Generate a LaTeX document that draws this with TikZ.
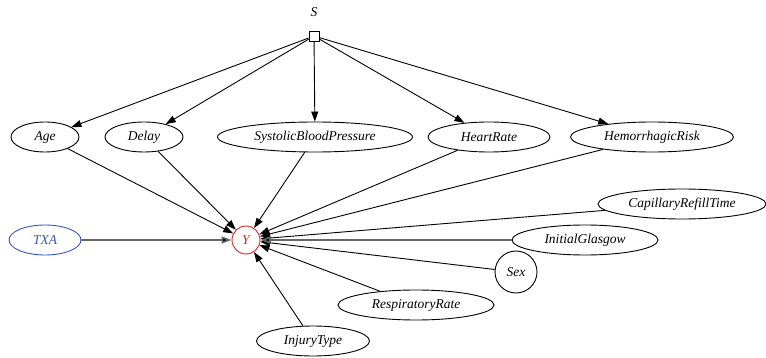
\documentclass[tikz,border=0pt]{standalone}
\usepackage{fontspec}
\setmainfont{Liberation Serif}
\usetikzlibrary{arrows.meta,shapes.geometric}
\definecolor{txablue}{RGB}{51,85,204}
\definecolor{yred}{RGB}{230,30,30}
\begin{document}
\begin{tikzpicture}[x=1pt, y=-1pt,
    var/.style={draw, ellipse, inner sep=0pt, minimum height=30pt, line width=0.9pt,
      font=\itshape\fontsize{13.5}{15}\selectfont},
    sel/.style={draw, rectangle, minimum size=10pt, inner sep=0pt, line width=0.9pt},
    edge/.style={-{Triangle[length=10pt,width=7pt]}, line width=0.9pt},
    treat/.style={edge, draw=black!60, line width=1.6pt, -{Triangle[length=10pt,width=7pt,fill=black]}}]
  \useasboundingbox (0,0) rectangle (766,358);

  % selection node
  \node[font=\itshape\fontsize{13.5}{15}\selectfont] (slabel) at (314,12) {S};
  \node[sel] (s) at (314,36) {};

  % outcome
  \node[draw=yred, text=yred, circle, minimum size=28pt, inner sep=0pt, line width=0.9pt,
        font=\itshape\fontsize{13.5}{15}\selectfont] (y) at (246,240) {Y};

  % covariates
  \node[var, minimum width=68pt] (age) at (45,137) {Age};
  \node[var, minimum width=78pt] (delay) at (144,137) {Delay};
  \node[var, minimum width=195pt] (sbp) at (315,137) {SystolicBloodPressure};
  \node[var, minimum width=122pt] (hr) at (489,137) {HeartRate};
  \node[var, minimum width=163pt] (hemo) at (652,137) {HemorrhagicRisk};
  \node[var, minimum width=72pt, draw=txablue, text=txablue] (txa) at (45,240) {TXA};
  \node[var, minimum width=168pt] (crt) at (682,204) {CapillaryRefillTime};
  \node[var, minimum width=146pt] (gcs) at (585,240) {InitialGlasgow};
  \node[var, circle, minimum size=42pt] (sex) at (516,272) {Sex};
  \node[var, minimum width=156pt] (rr) at (416,305) {RespiratoryRate};
  \node[var, minimum width=113pt] (inj) at (313,341) {InjuryType};

  \foreach \n in {age,delay,sbp,hr,hemo}
    \draw[edge] (s) -- (\n);
  \foreach \n in {age,delay,sbp,hr,hemo,crt,sex,rr,inj}
    \draw[edge] (\n) -- (y);
  \draw[treat] (txa) -- (y);
  \draw[treat] (gcs) -- (y);
\end{tikzpicture}
\end{document}
